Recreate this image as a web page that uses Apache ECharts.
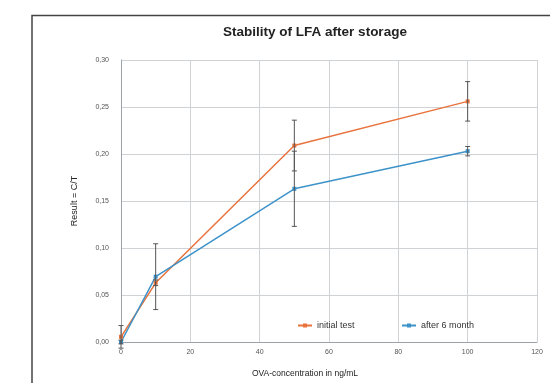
<!DOCTYPE html>
<html><head><meta charset="utf-8">
<script src="https://cdn.jsdelivr.net/npm/echarts@6/dist/echarts.min.js"></script>
<style>html,body{margin:0;padding:0;background:#fff;}#c{width:550px;height:383px;}</style>
</head><body><div id="c"></div>
<script>
var xValues = [0, 10, 50, 100];
var initialTest = [0.0055, 0.063, 0.209, 0.256];
var initialErr = [0.012, 0.003, 0.027, 0.021];
var after6Month = [0.0, 0.0695, 0.163, 0.203];
var after6Err = [0.002, 0.035, 0.040, 0.005];
var seriesNames = ['initial test', 'after 6 month'];
var titleText = 'Stability of LFA after storage';
var xName = 'OVA-concentration in ng/mL';
var yName = 'Result = C/T';

var colors = ['#e8733d', '#3d93c9'];
function pairs(ys) { return xValues.map(function (x, i) { return [x, ys[i]]; }); }
function errData(ys, es) { return xValues.map(function (x, i) { return [x, ys[i] - es[i], ys[i] + es[i]]; }); }
function errRender(params, api) {
  var x = api.value(0);
  var lo = api.coord([x, api.value(1)]);
  var hi = api.coord([x, api.value(2)]);
  var w = 2.5;
  var st = { stroke: '#555', lineWidth: 1 };
  return { type: 'group', children: [
    { type: 'line', shape: { x1: lo[0], y1: lo[1], x2: hi[0], y2: hi[1] }, style: st },
    { type: 'line', shape: { x1: lo[0] - w, y1: lo[1], x2: lo[0] + w, y2: lo[1] }, style: st },
    { type: 'line', shape: { x1: hi[0] - w, y1: hi[1], x2: hi[0] + w, y2: hi[1] }, style: st }
  ]};
}
var chart = echarts.init(document.getElementById('c'), null, { renderer: 'canvas' });
var font = 'Liberation Sans, Arial, sans-serif';
var legendText = { fontSize: 9, color: '#333' };
chart.setOption({
  animation: false,
  textStyle: { fontFamily: font },
  color: colors,
  graphic: [{ type: 'polyline', silent: true,
    shape: { points: [[32, 400], [32, 15.5], [560, 15.5]] },
    style: { stroke: '#444', lineWidth: 1.5, fill: null } }],
  title: { text: titleText, left: 310, textAlign: 'center', top: 20,
    textStyle: { fontSize: 13.5, fontWeight: 'bold', color: '#222', fontFamily: font } },
  legend: [
    { data: [seriesNames[0]], left: 292, top: 316, itemWidth: 14, itemHeight: 5, textStyle: legendText },
    { data: [seriesNames[1]], left: 396, top: 316, itemWidth: 14, itemHeight: 5, textStyle: legendText }
  ],
  grid: { left: 121, right: 13, top: 60, bottom: 36 },
  xAxis: { type: 'value', min: 0, max: 120, interval: 20,
    name: xName, nameLocation: 'middle', nameGap: 27,
    nameTextStyle: { fontSize: 8.5, color: '#222', padding: [0, 48, 0, 0] },
    axisLine: { show: true, lineStyle: { color: '#9aa3ab' } },
    axisTick: { show: false },
    axisLabel: { fontSize: 7, color: '#555', margin: 7 },
    splitLine: { show: true, lineStyle: { color: '#cfd3d6' } } },
  yAxis: { type: 'value', min: 0, max: 0.3, interval: 0.05,
    name: yName, nameLocation: 'middle', nameGap: 42,
    nameTextStyle: { fontSize: 9, color: '#222' },
    axisLine: { show: true, lineStyle: { color: '#9aa3ab' } },
    axisTick: { show: false },
    axisLabel: { fontSize: 7, color: '#555', margin: 12,
      formatter: function (v) { return v.toFixed(2).replace('.', ','); } },
    splitLine: { show: true, lineStyle: { color: '#cfd3d6' } } },
  series: [
    { name: seriesNames[0], type: 'line', data: pairs(initialTest), symbol: 'rect', symbolSize: 4,
      lineStyle: { width: 1.5 }, z: 3 },
    { name: seriesNames[1], type: 'line', data: pairs(after6Month), symbol: 'rect', symbolSize: 4,
      lineStyle: { width: 1.5 }, z: 3 },
    { type: 'custom', renderItem: errRender, data: errData(initialTest, initialErr), z: 4, encode: { x: 0, y: [1, 2] } },
    { type: 'custom', renderItem: errRender, data: errData(after6Month, after6Err), z: 4, encode: { x: 0, y: [1, 2] } }
  ]
});
</script></body></html>
